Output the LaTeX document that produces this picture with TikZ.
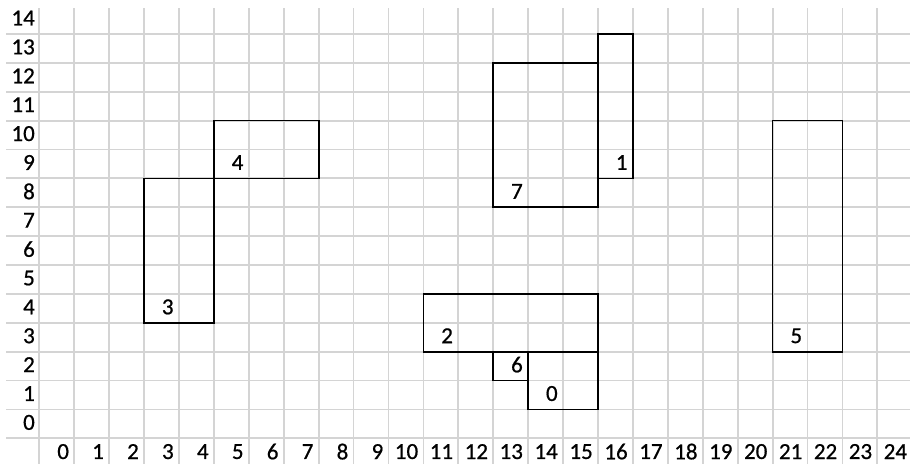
\documentclass[tikz,border=0pt]{standalone}
\usepackage{fontspec}
\setmainfont{Carlito}
\newfontfamily\lblfont{Carlito}[FakeBold=0.7]
\begin{document}
\begin{tikzpicture}[x=34.92pt,y=28.88pt,
  gridline/.style={draw=black!17, line width=1.8pt},
  box/.style={draw=black, line width=1.7pt},
  lbl/.style={anchor=east, inner sep=0pt, font=\lblfont\fontsize{23}{23}\selectfont}]
\useasboundingbox (-1.1254,-0.855) rectangle (24.934,15.177);
% grid
\foreach \y in {0,...,14} \draw[gridline] (-0.95,\y) -- (25.3,\y);
\foreach \x in {0,...,24} \draw[gridline] (\x,-0.9) -- (\x,14.9);
% row labels
\foreach \r in {0,...,14} \node[lbl] (row\r) at (-0.123,\r+0.55) {\r};
% column labels
\foreach \c in {0,...,24} \node[lbl] (col\c) at (\c+0.855,-0.46) {\c};
% rectangles
\draw[box] (3,4) rectangle (5,9);
\draw[box] (5,9) rectangle (8,11);
\draw[box] (16,9) rectangle (17,14);
\draw[box] (13,8) rectangle (16,13);
\draw[box] (11,3) rectangle (16,5);
\draw[box] (13,2) rectangle (14,3);
\draw[box] (14,1) rectangle (16,3);
\draw[box] (21,3) rectangle (23,11);
% rectangle labels
\node[lbl] (r3) at (3.85,4.55) {3};
\node[lbl] (r4) at (5.85,9.55) {4};
\node[lbl] (r1) at (16.85,9.55) {1};
\node[lbl] (r7) at (13.85,8.55) {7};
\node[lbl] (r2) at (11.85,3.55) {2};
\node[lbl] (r6) at (13.85,2.55) {6};
\node[lbl] (r0) at (14.85,1.55) {0};
\node[lbl] (r5) at (21.85,3.55) {5};
\end{tikzpicture}
\end{document}
